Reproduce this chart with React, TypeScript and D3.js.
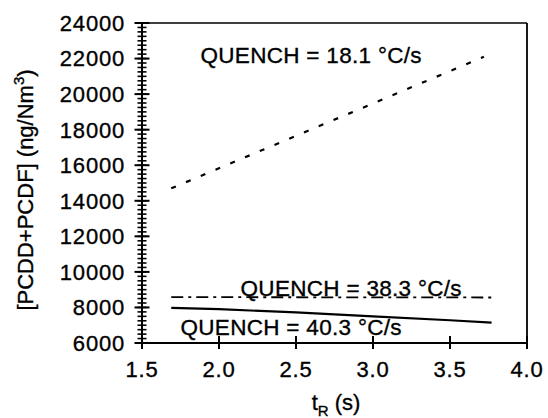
import React from "react";
import * as d3 from "d3";

const xTicks = [1.5, 2.0, 2.5, 3.0, 3.5, 4.0];
const yTicks = [6000, 8000, 10000, 12000, 14000, 16000, 18000, 20000, 22000, 24000];

// QUENCH = 18.1 °C/s (dashed)
const q181T = [1.69, 3.72];
const q181V = [14700, 22100];
// QUENCH = 38.3 °C/s (dash-dot)
const q383T = [1.69, 3.77];
const q383V = [8580, 8560];
// QUENCH = 40.3 °C/s (solid)
const q403T = [1.69, 2.0, 2.5, 3.0, 3.5, 3.77];
const q403V = [7980, 7900, 7720, 7500, 7280, 7150];

const labels = [
  { text: "QUENCH = 18.1 °C/s", t: 1.88, v: 21750 },
  { text: "QUENCH = 38.3 °C/s", t: 2.14, v: 8640 },
  { text: "QUENCH = 40.3 °C/s", t: 1.75, v: 6450 },
];

export default function App() {
  const W = 548, H = 418;
  const x = d3.scaleLinear().domain([1.5, 4.0]).range([142, 527]);
  const y = d3.scaleLinear().domain([6000, 24000]).range([343, 23]);
  const line = d3.line<[number, number]>().x(d => x(d[0])).y(d => y(d[1]));
  const zip = (a: number[], b: number[]) => a.map((t, i) => [t, b[i]] as [number, number]);
  const minor = d3.range(6000, 24001, 250);
  const font = "'Liberation Sans', Arial, Helvetica, sans-serif";
  const x0 = x(1.5);
  const ts = { stroke: "#000", strokeWidth: 0.35 };

  return (
    <svg width={W} height={H} style={{ position: "absolute", left: 0, top: 0 }} fontFamily={font}>
      <rect x={0} y={0} width={W} height={H} fill="#fff" />
      {/* frame */}
      <line x1={x(1.5)} x2={x(4.0)} y1={y(24000)} y2={y(24000)} stroke="#000" strokeWidth={1.6} />
      <line x1={x(4.0)} x2={x(4.0)} y1={y(24000)} y2={y(6000)} stroke="#000" strokeWidth={1.8} />
      <line x1={x(1.5)} x2={x(4.0)} y1={y(6000)} y2={y(6000)} stroke="#000" strokeWidth={2} />
      <line x1={x0} x2={x0} y1={y(24000)} y2={y(6000)} stroke="#000" strokeWidth={2} />
      {/* y minor ticks */}
      {minor.map(v => (
        <line key={"m" + v} x1={x0 - 4.5} x2={x0 + 4.5} y1={y(v)} y2={y(v)} stroke="#000" strokeWidth={1.6} />
      ))}
      {yTicks.map(v => (
        <g key={"y" + v}>
          <line x1={x0 - 7.5} x2={x0 + 7.5} y1={y(v)} y2={y(v)} stroke="#000" strokeWidth={2} />
          <text x={125} y={y(v)} dy="0.36em" textAnchor="end" fontSize={22} letterSpacing={0.8} {...ts}>{v}</text>
        </g>
      ))}
      {xTicks.map(t => (
        <g key={"x" + t}>
          <line x1={x(t)} x2={x(t)} y1={y(6000) - 7} y2={y(6000) + 6} stroke="#000" strokeWidth={2} />
          <text x={x(t)} y={377} textAnchor="middle" fontSize={22} letterSpacing={0.8} {...ts}>{t.toFixed(1)}</text>
        </g>
      ))}
      {/* axis titles */}
      <text transform="translate(33,190) rotate(-90)" textAnchor="middle" fontSize={22} {...ts}>
        [PCDD+PCDF] (ng/Nm<tspan dy="-9" fontSize={15}>3</tspan><tspan dy="9">)</tspan>
      </text>
      <text x={336} y={410} textAnchor="middle" fontSize={22} {...ts}>
        t<tspan dy="6" fontSize={15}>R</tspan><tspan dy="-6"> (s)</tspan>
      </text>
      {/* series */}
      <path d={line(zip(q181T, q181V)) || ""} fill="none" stroke="#000" strokeWidth={2.2} strokeDasharray="5,11" />
      <path d={line(zip(q383T, q383V)) || ""} fill="none" stroke="#000" strokeWidth={1.8} strokeDasharray="12,5,3,5" />
      <path d={line(zip(q403T, q403V)) || ""} fill="none" stroke="#000" strokeWidth={2.2} />
      {labels.map(l => (
        <text key={l.text} x={x(l.t)} y={y(l.v)} fontSize={22.5} letterSpacing={0.3} {...ts}>{l.text}</text>
      ))}
    </svg>
  );
}
